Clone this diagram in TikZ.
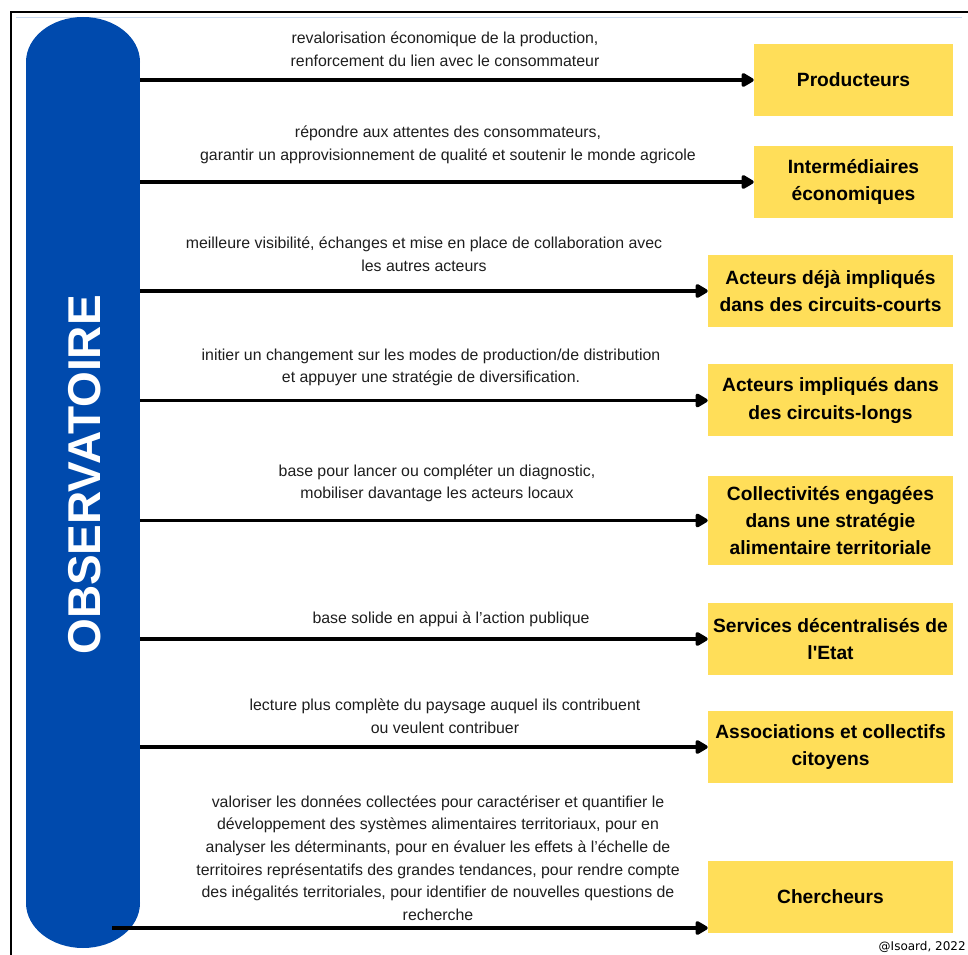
\documentclass[tikz,border=0pt]{standalone}
\usepackage{fontspec}
\setmainfont{Liberation Sans}[Ligatures=TeXOff]
\newfontfamily\notefont{DejaVu Sans}
\usetikzlibrary{arrows.meta}
\definecolor{ObsBlue}{HTML}{004AAD}
\definecolor{ActorYellow}{HTML}{FFDE59}
\definecolor{FrameBlue}{HTML}{C9DAF0}
\definecolor{LabelGray}{HTML}{1E1E1E}

\begin{document}
\begin{tikzpicture}[x=0.75pt,y=-0.75pt,
    actor/.style={fill=ActorYellow,inner sep=2pt,align=center,
      font=\fontsize{14.4}{20.5}\selectfont\bfseries,minimum height=54pt},
    narrow/.style={actor,minimum width=149.25pt},
    wide/.style={actor,minimum width=183.75pt},
    lbl/.style={align=center,text=LabelGray,inner sep=0pt,
      font=\fontsize{11.9}{16.9}\selectfont},
    link/.style={-{Triangle[length=10.5pt,width=11.5pt,round]},line width=2.8pt}]
  \useasboundingbox (0,0) rectangle (968,955);
  % frame
  \draw[FrameBlue,line width=0.6pt] (16,17) -- (962,17);
  \draw[line width=1.6pt] (11,955) -- (11,12) -- (968,12);
  % observatoire pill
  \fill[ObsBlue] (26,62) rectangle (140,903);
  \fill[ObsBlue] (83,62) ellipse [x radius=57,y radius=45];
  \fill[ObsBlue] (83,903) ellipse [x radius=57,y radius=45];
  \node[minimum width=85.5pt,minimum height=698pt,inner sep=0pt] (obs) at (83,482.5) {};
  \node[rotate=90,text=white,font=\fontsize{34.5}{40}\selectfont\bfseries] (obsname) at (85,475) {OBSERVATOIRE};

  % actors
  \node[narrow] (prod) at (853.5,80) {Producteurs};
  \node[narrow] (inter) at (853.5,182) {Intermédiaires\\économiques};
  \node[wide] (court) at (830.5,291) {Acteurs déjà impliqués\\dans des circuits-courts};
  \node[wide] (long) at (830.5,400.5) {Acteurs impliqués dans\\des circuits-longs};
  \node[wide,minimum height=67pt] (coll) at (830.5,520.5) {Collectivités engagées\\dans une stratégie\\alimentaire territoriale};
  \node[wide] (etat) at (830.5,639) {Services décentralisés de\\l'Etat};
  \node[wide] (asso) at (830.5,747) {Associations et collectifs\\citoyens};
  \node[wide] (cherch) at (830.5,897) {Chercheurs};

  % what each actor gets
  \node[lbl] (tprod) at (445,49) {revalorisation économique de la production,\\renforcement du lien avec le consommateur};
  \node[lbl] (tinter) at (448,145) {répondre aux attentes des consommateurs,\\garantir un approvisionnement de qualité et soutenir le monde agricole};
  \node[lbl] (tcourt) at (424,254.5) {meilleure visibilité, échanges et mise en place de collaboration avec\\les autres acteurs};
  \node[lbl] (tlong) at (431,367.5) {initier un changement sur les modes de production/de distribution\\et appuyer une stratégie de diversification.};
  \node[lbl] (tcoll) at (437,483.5) {base pour lancer ou compléter un diagnostic,\\mobiliser davantage les acteurs locaux};
  \node[lbl] (tetat) at (451,619) {base solide en appui à l’action publique};
  \node[lbl] (tasso) at (445,716.5) {lecture plus complète du paysage auquel ils contribuent\\ou veulent contribuer};
  \node[lbl] (tcherch) at (438,858) {valoriser les données collectées pour caractériser et quantifier le\\développement des systèmes alimentaires territoriaux, pour en\\analyser les déterminants, pour en évaluer les effets à l’échelle de\\territoires représentatifs des grandes tendances, pour rendre compte\\des inégalités territoriales, pour identifier de nouvelles questions de\\recherche};

  % arrows
  \draw[link] (obs.east |- prod.west) -- (prod.west);
  \draw[link] (obs.east |- inter.west) -- (inter.west);
  \draw[link] (obs.east |- court.west) -- (court.west);
  \draw[link] (obs.east |- long.west) -- (long.west);
  \draw[link] (obs.east |- coll.west) -- (coll.west);
  \draw[link] (obs.east |- etat.west) -- (etat.west);
  \draw[link] (obs.east |- asso.west) -- (asso.west);
  \coordinate (rech) at (112,928);
  \draw[link] (rech) -- (cherch.west |- rech);

  \node[anchor=east,inner sep=0pt,font=\notefont\fontsize{9}{10}\selectfont] (credit) at (966,947) {@Isoard, 2022};
\end{tikzpicture}
\end{document}
